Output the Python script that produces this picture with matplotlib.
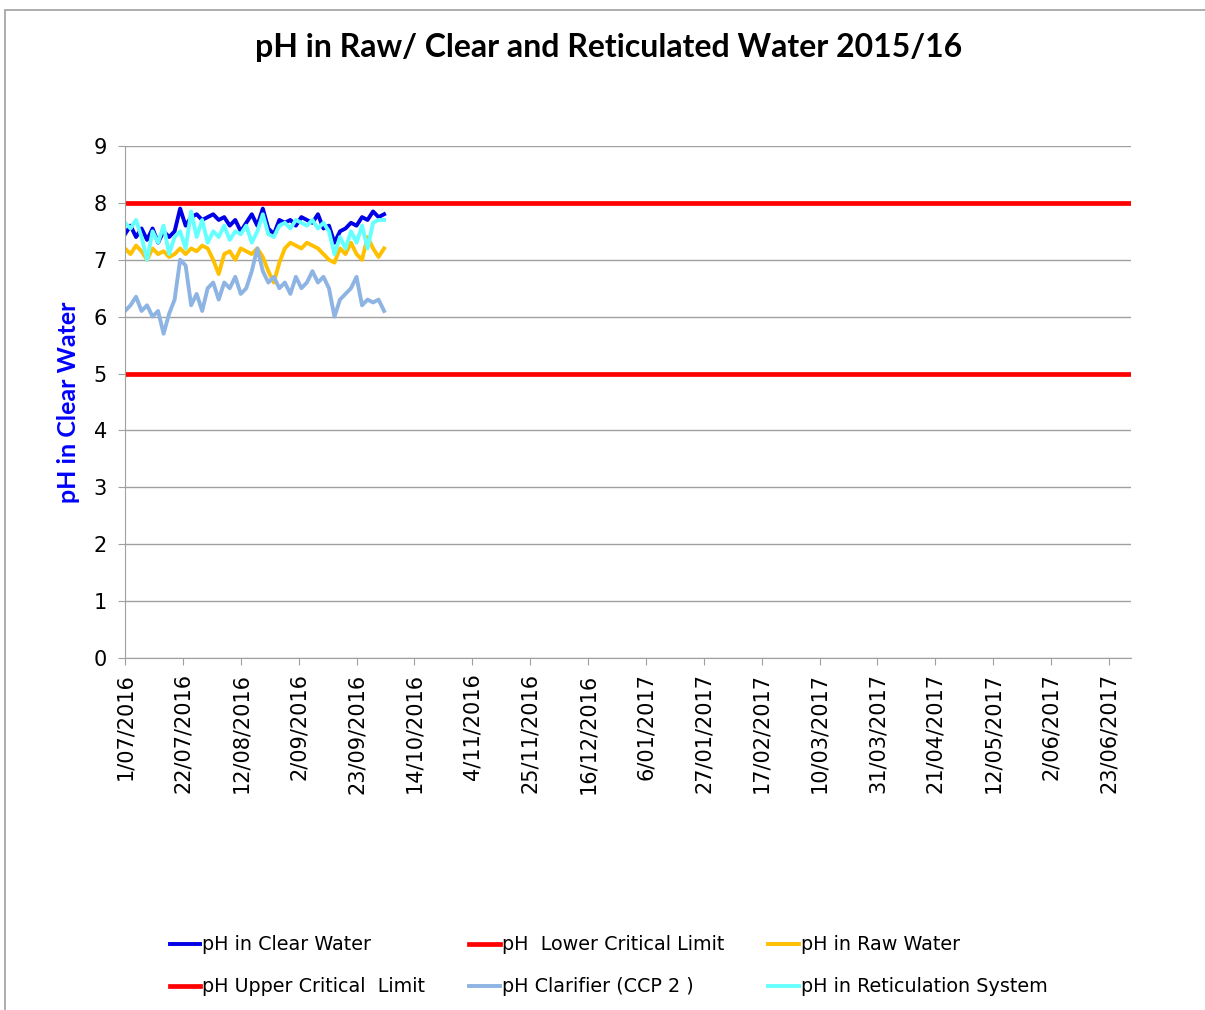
import matplotlib
matplotlib.use("Agg")
import matplotlib.pyplot as plt
import pandas as pd
from matplotlib.patches import Rectangle

# sample dates (every 2 days from 1 July 2016)
dates = pd.date_range("2016-07-01", periods=48, freq="2D")

clear_water = [7.45, 7.6, 7.4, 7.55, 7.35, 7.55, 7.3, 7.5, 7.4, 7.5, 7.9, 7.6,
               7.75, 7.8, 7.7, 7.75, 7.8, 7.7, 7.75, 7.6, 7.7, 7.5, 7.65, 7.8,
               7.6, 7.9, 7.55, 7.45, 7.7, 7.65, 7.7, 7.6, 7.75, 7.7, 7.65, 7.8,
               7.55, 7.6, 7.3, 7.5, 7.55, 7.65, 7.6, 7.75, 7.7, 7.85, 7.75, 7.8]
reticulation = [7.65, 7.55, 7.7, 7.4, 7.0, 7.5, 7.3, 7.6, 7.1, 7.4, 7.5, 7.2,
                7.85, 7.4, 7.7, 7.3, 7.5, 7.4, 7.6, 7.35, 7.5, 7.45, 7.6, 7.3,
                7.5, 7.8, 7.45, 7.4, 7.6, 7.65, 7.55, 7.7, 7.65, 7.6, 7.7, 7.55,
                7.65, 7.5, 7.1, 7.4, 7.2, 7.5, 7.3, 7.6, 7.2, 7.65, 7.7, 7.7]
raw_water = [7.2, 7.1, 7.25, 7.15, 7.0, 7.2, 7.1, 7.15, 7.05, 7.1, 7.2, 7.1,
             7.2, 7.15, 7.25, 7.2, 7.0, 6.75, 7.1, 7.15, 7.0, 7.2, 7.15, 7.1,
             7.2, 7.05, 6.8, 6.6, 6.95, 7.2, 7.3, 7.25, 7.2, 7.3, 7.25, 7.2,
             7.1, 7.0, 6.95, 7.2, 7.1, 7.3, 7.1, 7.0, 7.4, 7.2, 7.05, 7.2]
clarifier = [6.1, 6.2, 6.35, 6.1, 6.2, 6.0, 6.1, 5.7, 6.05, 6.3, 7.0, 6.9,
             6.2, 6.4, 6.1, 6.5, 6.6, 6.3, 6.6, 6.5, 6.7, 6.4, 6.5, 6.8,
             7.2, 6.8, 6.6, 6.7, 6.5, 6.6, 6.4, 6.7, 6.5, 6.6, 6.8, 6.6,
             6.7, 6.5, 6.0, 6.3, 6.4, 6.5, 6.7, 6.2, 6.3, 6.25, 6.3, 6.1]
lower_limit = 5
upper_limit = 8

x_start = pd.Timestamp("2016-07-01")
x_end = pd.Timestamp("2017-07-01")
x_ticks = pd.date_range("2016-07-01", "2017-06-30", freq="21D")

plt.rcParams['font.family'] = ['DejaVu Sans']

fig = plt.figure(figsize=(12.05, 10.1), dpi=100)
fig.patches.append(Rectangle((5 / 1205, -0.01), 1.1, 1 - 10 / 1010 + 0.01,
                             transform=fig.transFigure, fill=False,
                             edgecolor='#a0a0a0', linewidth=1.2))
ax = fig.add_axes([125 / 1205, 1 - 658 / 1010, (1131 - 125) / 1205, (658 - 146) / 1010])

lw = 2.8
l1, = ax.plot(dates, clear_water, color='#0000e6', lw=lw, label='pH in Clear Water')
l2, = ax.plot([x_start, x_end], [lower_limit, lower_limit], color='#ff0000', lw=3.4,
              label='pH  Lower Critical Limit')
l3, = ax.plot(dates, raw_water, color='#ffc000', lw=lw, label='pH in Raw Water')
l4, = ax.plot([x_start, x_end], [upper_limit, upper_limit], color='#ff0000', lw=3.4,
              label='pH Upper Critical  Limit')
l5, = ax.plot(dates, clarifier, color='#8eb4e3', lw=lw, label='pH Clarifier (CCP 2 )')
l6, = ax.plot(dates, reticulation, color='#66ffff', lw=lw, label='pH in Reticulation System')

ax.set_xlim(x_start, x_end)
ax.set_ylim(0, 9)
ax.set_yticks(range(0, 10))
ax.set_xticks(x_ticks)
ax.set_xticklabels([f"{d.day}/{d.month:02d}/{d.year}" for d in x_ticks],
                   rotation=90, fontsize=15)
ax.tick_params(axis='y', labelsize=15, length=5, color='#a0a0a0', pad=8)
ax.tick_params(axis='x', length=5, color='#a0a0a0', pad=6)
ax.grid(axis='y', color='#a0a0a0', lw=1)
ax.set_axisbelow(True)
for s in ['top', 'right']:
    ax.spines[s].set_visible(False)
for s in ['left', 'bottom']:
    ax.spines[s].set_color('#a0a0a0')

ax.set_ylabel('pH in Clear Water', color='#0000ff', fontsize=18, fontweight='bold',
              family=['Lato', 'DejaVu Sans'], labelpad=10)
fig.text(0.505, 1 - 48 / 1010, 'pH in Raw/ Clear and Reticulated Water 2015/16',
         ha='center', va='center', fontsize=23, fontweight='bold',
         family=['Lato', 'DejaVu Sans'])

handles = [l1, l4, l2, l5, l3, l6]
fig.legend(handles=handles, labels=[h.get_label() for h in handles], ncol=3,
           loc='center', bbox_to_anchor=(0.505, 1 - 966 / 1010), frameon=False,
           fontsize=13.8, handlelength=1.6, handletextpad=0.1, columnspacing=2.3,
           labelspacing=1.2)

fig.savefig('out.png', dpi=100)
